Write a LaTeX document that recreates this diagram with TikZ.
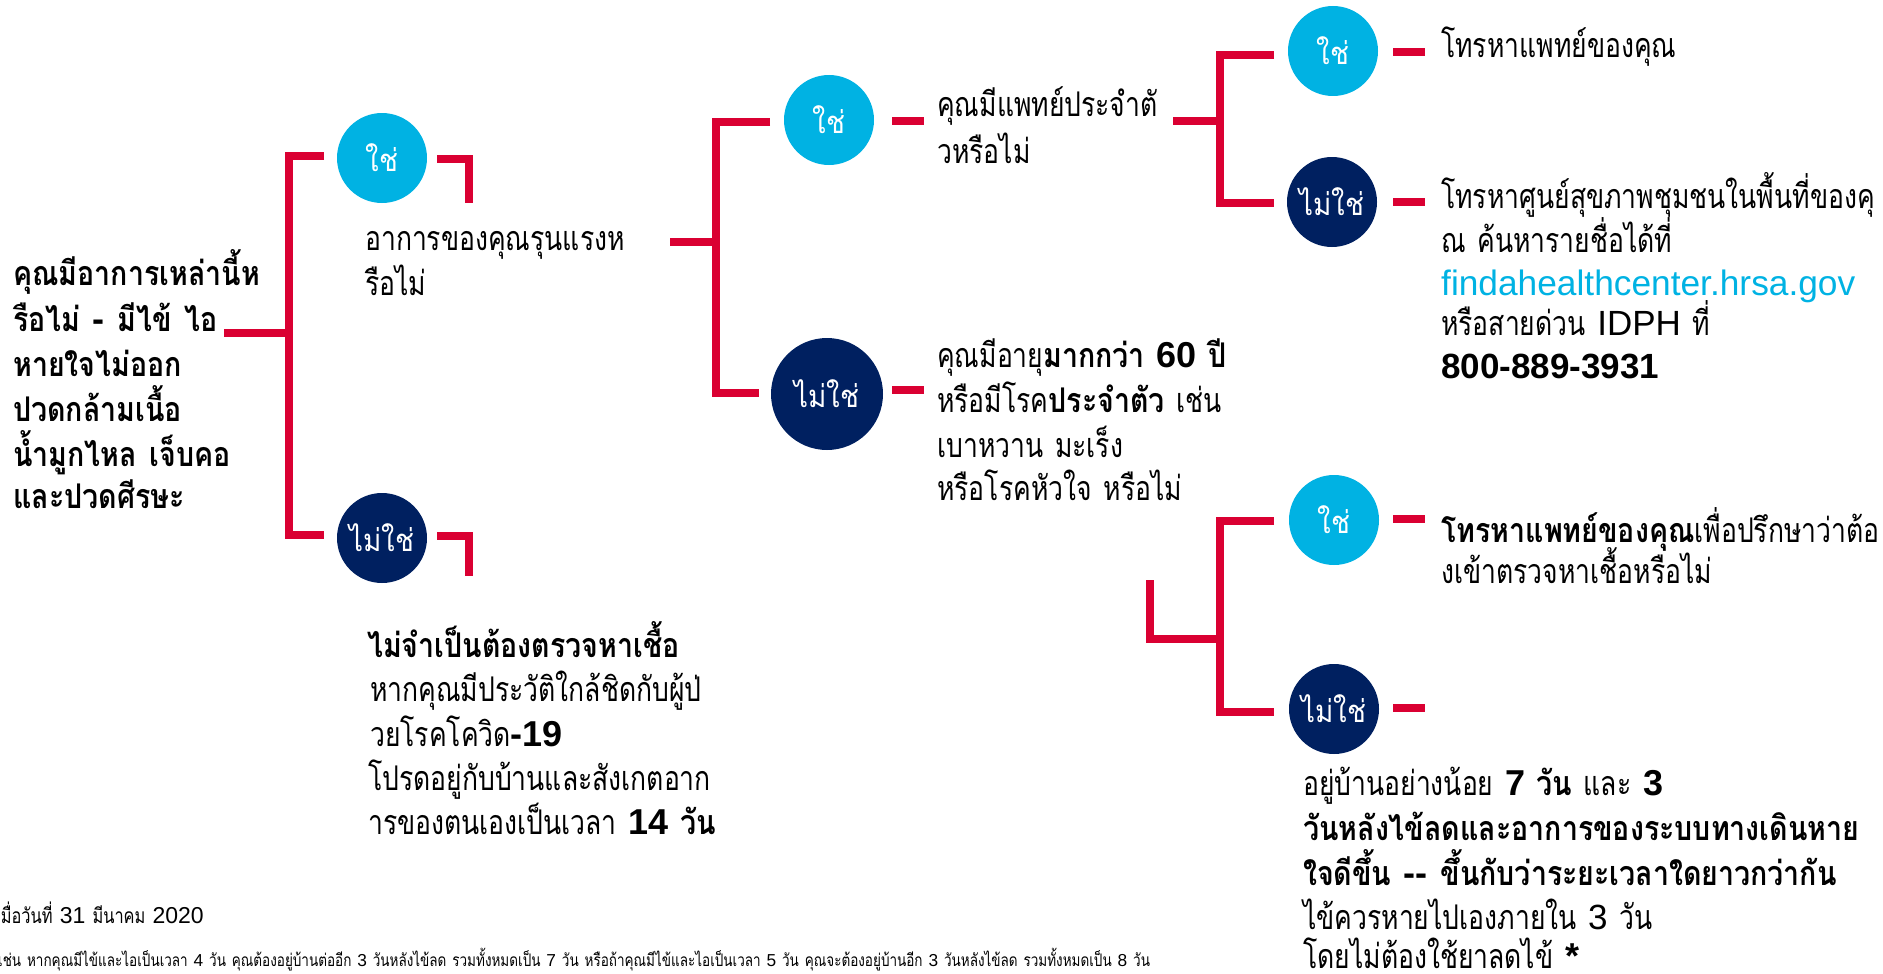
\documentclass[tikz,border=0pt]{standalone}
\usepackage{fontspec}
\setmainfont{Liberation Sans}
\newfontfamily\thf[Script=Thai,FakeStretch=0.78,WordSpace=1.3,BoldFeatures={FakeStretch=0.84}]{Loma}
\newfontfamily\circf[Script=Thai,FakeStretch=0.9]{Loma}
\newfontfamily\latf{Liberation Sans}
\newcommand{\lr}[1]{{\latf\fontsize{35}{40}\selectfont #1}}
\newcommand{\lbd}[1]{{\latf\bfseries\fontsize{36}{40}\selectfont #1}}
\definecolor{cred}{RGB}{218,0,50}
\definecolor{ccyan}{RGB}{0,178,227}
\definecolor{cnavy}{RGB}{0,32,96}
\begin{document}
\begin{tikzpicture}[x=1pt,y=-1pt,
  conn/.style={draw=cred,line width=8pt,line cap=butt,line join=miter},
  yesc/.style={circle,fill=ccyan,minimum size=90pt,inner sep=0pt,text=white,font=\circf\fontsize{31}{32}\selectfont},
  noc/.style={yesc,fill=cnavy},
  tl/.style={anchor=base west,inner sep=0pt,font=\thf\fontsize{34}{40}\selectfont},
  tb/.style={anchor=base west,inner sep=0pt,font=\thf\bfseries\fontsize{34}{40}\selectfont},
  foot/.style={inner sep=0pt,font=\thf\fontsize{#1}{#1}\selectfont},
]
\useasboundingbox (0,0) rectangle (1883,974);
\clip (0,0) rectangle (1883,974);

% circles
\node[yesc] (yes1) at (382,158) {ใช่};
\node[noc]  (no1)  at (382,538) {ไม่ใช่};
\node[yesc] (yes2) at (829,120) {ใช่};
\node[noc,minimum size=112pt] (no2) at (827,394) {ไม่ใช่};
\node[yesc] (yes3) at (1333,51) {ใช่};
\node[noc]  (no3)  at (1332,202) {ไม่ใช่};
\node[yesc] (yes4) at (1334,520) {ใช่};
\node[noc]  (no4)  at (1334,709) {ไม่ใช่};

% question 1
\node[tb] (q1a) at (13,285) {คุณมีอาการเหล่านี้ห};
\node[tb] (q1b) at (13,331) {รือไม่ \lbd{-} มีไข้ ไอ};
\node[tb] (q1c) at (13,376) {หายใจไม่ออก};
\node[tb] (q1d) at (13,421) {ปวดกล้ามเนื้อ};
\node[tb] (q1e) at (13,466) {น้ำมูกไหล เจ็บคอ};
\node[tb] (q1f) at (13,508) {และปวดศีรษะ};

% question 2
\node[tl] (q2a) at (365,250) {อาการของคุณรุนแรงห};
\node[tl] (q2b) at (365,295) {รือไม่};

% answer no1
\node[tb] (n1a) at (367,657) {ไม่จำเป็นต้องตรวจหาเชื้อ};
\node[tl] (n1b) at (370,701) {หากคุณมีประวัติใกล้ชิดกับผู้ป่};
\node[tl] (n1c) at (370,746) {วยโรคโควิด\lbd{-19}};
\node[tl] (n1d) at (368,790) {โปรดอยู่กับบ้านและสังเกตอาก};
\node[tl] (n1e) at (368,834) {ารของตนเองเป็นเวลา \lbd{14} {\bfseries วัน}};

% question 3
\node[tl] (q3a) at (937,117) {คุณมีแพทย์ประจำตั};
\node[tl] (q3b) at (937,163) {วหรือไม่};

% question 4
\node[tl] (q4a) at (937,367) {คุณมีอายุ{\bfseries มากกว่า} \lbd{60} {\bfseries ปี}};
\node[tl] (q4b) at (937,412) {หรือมีโรค{\bfseries ประจำตัว} เช่น};
\node[tl] (q4c) at (937,457) {เบาหวาน มะเร็ง};
\node[tl] (q4d) at (937,500) {หรือโรคหัวใจ หรือไม่};

% answers yes3 / no3
\node[tl] (a3) at (1441,58) {โทรหาแพทย์ของคุณ};
\node[tl] (b3a) at (1441,208) {โทรหาศูนย์สุขภาพชุมชนในพื้นที่ของคุ};
\node[tl] (b3b) at (1441,252) {ณ ค้นหารายชื่อได้ที่};
\node[tl,text=ccyan] (b3c) at (1441,295) {\latf\fontsize{35.3}{40}\selectfont findahealthcenter.hrsa.gov};
\node[tl] (b3d) at (1441,335) {หรือสายด่วน \lr{IDPH} ที่};
\node[tl] (b3e) at (1441,378) {\latf\bfseries\fontsize{35}{40}\selectfont 800-889-3931};

% answers yes4 / no4
\node[tl] (a4a) at (1441,542) {{\bfseries โทรหาแพทย์ของคุณ}เพื่อปรึกษาว่าต้อ};
\node[tl] (a4b) at (1441,583) {งเข้าตรวจหาเชื้อหรือไม่};
\node[tl] (b4a) at (1303,795) {อยู่บ้านอย่างน้อย \lbd{7} {\bfseries วัน} และ \lbd{3}};
\node[tb] (b4b) at (1303,840) {วันหลังไข้ลดและอาการของระบบทางเดินหาย};
\node[tb] (b4c) at (1303,885) {ใจดีขึ้น \lbd{-{}-} ขึ้นกับว่าระยะเวลาใดยาวกว่ากัน};
\node[tl] (b4d) at (1303,929) {ไข้ควรหายไปเองภายใน \lr{3} วัน};
\node[tl] (b4e) at (1303,968) {โดยไม่ต้องใช้ยาลดไข้ \lbd{*}};

% footer
\node[foot=21,anchor=base east] (date) at (204,923) {เมื่อวันที่ {\latf\fontsize{23}{24}\selectfont 31} มีนาคม {\latf\fontsize{23}{24}\selectfont 2020}};
\node[foot=17.3,anchor=base west] (note) at (-2,966) {เช่น หากคุณมีไข้และไอเป็นเวลา {\latf 4} วัน คุณต้องอยู่บ้านต่ออีก {\latf 3} วันหลังไข้ลด รวมทั้งหมดเป็น {\latf 7} วัน หรือถ้าคุณมีไข้และไอเป็นเวลา {\latf 5} วัน คุณจะต้องอยู่บ้านอีก {\latf 3} วันหลังไข้ลด รวมทั้งหมดเป็น {\latf 8} วัน};

% connector coordinates
\coordinate (c1in) at (224,333); \coordinate (c1j) at (289,333);
\coordinate (c1t) at (324,156);  \coordinate (c1b) at (324,535);
\coordinate (e1a) at (437,159);  \coordinate (e1b) at (469,203);
\coordinate (e2a) at (437,536);  \coordinate (e2b) at (469,576);
\coordinate (c2in) at (670,242); \coordinate (c2j) at (716,242);
\coordinate (c2t) at (770,122);  \coordinate (c2b) at (759,393);
\coordinate (d2a) at (892,121);  \coordinate (d2b) at (924,121);
\coordinate (d3a) at (892,390);  \coordinate (d3b) at (924,390);
\coordinate (c3in) at (1173,121); \coordinate (c3j) at (1220,121);
\coordinate (c3t) at (1274,55);  \coordinate (c3b) at (1274,203);
\coordinate (d4a) at (1393,52);  \coordinate (d4b) at (1425,52);
\coordinate (d5a) at (1393,202); \coordinate (d5b) at (1425,202);
\coordinate (c4in) at (1150,580); \coordinate (c4j) at (1220,639);
\coordinate (c4t) at (1274,521); \coordinate (c4b) at (1274,712);
\coordinate (d6a) at (1393,519); \coordinate (d6b) at (1425,519);
\coordinate (d7a) at (1393,708); \coordinate (d7b) at (1425,708);

% connectors
\draw[conn] (c1in) -- (c1j);
\draw[conn] (c1t) -| (c1j) |- (c1b);
\draw[conn] (e1a) -| (e1b);
\draw[conn] (e2a) -| (e2b);
\draw[conn] (c2in) -- (c2j);
\draw[conn] (c2t) -| (c2j) |- (c2b);
\draw[conn] (d2a) -- (d2b);
\draw[conn] (d3a) -- (d3b);
\draw[conn] (c3in) -- (c3j);
\draw[conn] (c3t) -| (c3j) |- (c3b);
\draw[conn] (d4a) -- (d4b);
\draw[conn] (d5a) -- (d5b);
\draw[conn] (c4in) |- (c4j);
\draw[conn] (c4t) -| (c4j) |- (c4b);
\draw[conn] (d6a) -- (d6b);
\draw[conn] (d7a) -- (d7b);
\end{tikzpicture}
\end{document}
